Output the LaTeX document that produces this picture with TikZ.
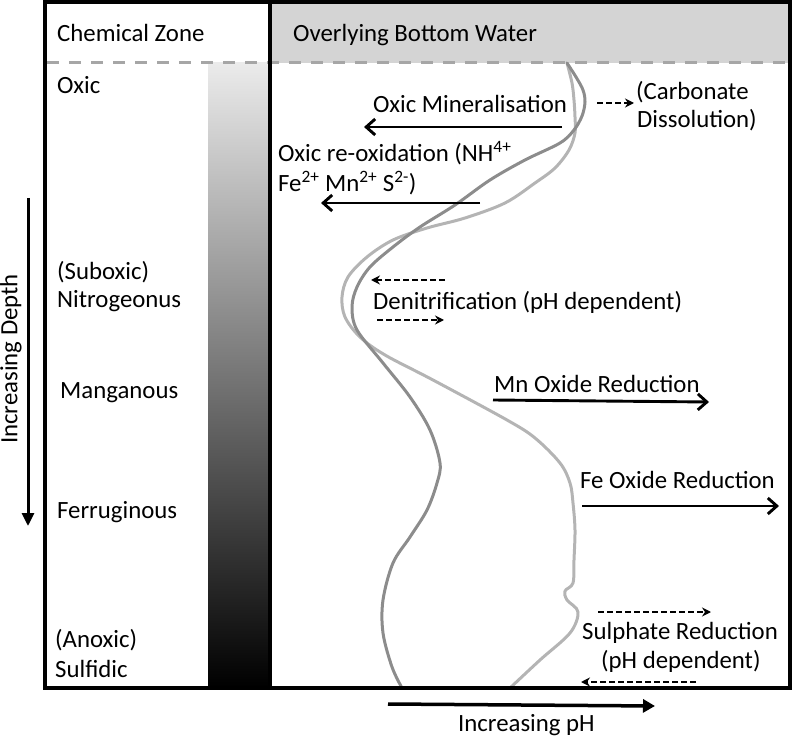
\documentclass[tikz,border=0pt]{standalone}
\usepackage{fontspec}
\setmainfont{Carlito}
\usetikzlibrary{arrows.meta}
\definecolor{hdrgray}{HTML}{D4D4D4}
\definecolor{dashgray}{HTML}{A6A6A6}
\definecolor{curvedark}{HTML}{8C8C8C}
\definecolor{curvelight}{HTML}{B4B4B4}
\definecolor{bartop}{HTML}{EBEBEB}
\begin{document}
\begin{tikzpicture}[x=1pt,y=-1pt,
  lbl/.style={anchor=base west, inner sep=0pt, font=\fontsize{24.8}{29}\selectfont},
  solidarr/.style={line width=2.9pt, -{Straight Barb[length=9pt,width=16pt,line width=2.9pt]}},
  dasharr/.style={line width=1.9pt, dash pattern=on 6pt off 3pt, -{Stealth[length=9pt,width=9pt]}},
  bigarr/.style={line width=3.5pt, -{Triangle[length=12pt,width=13pt]}},
  curvestyle/.style={line width=3pt, line cap=round, line join=round}
]
\useasboundingbox (0,0) rectangle (796,738);

% header fill and gradient
\fill[hdrgray] (270,2) rectangle (790,63);
\shade[top color=bartop, bottom color=black] (208,63) rectangle (268,688);
% dashed sediment-water interface
\draw[dashgray, line width=3pt, dash pattern=on 12pt off 10pt] (47,63) -- (790,63);

% pH curves
\draw[curvestyle, curvelight] plot[smooth, tension=0.55] coordinates {
 (567,63) (572,83) (574,100) (575,117) (575,133) (569,150) (555,168) (535,183)
 (505,203) (465,218) (427,228) (393,240) (367,257) (348,277) (342,297) (345,317)
 (360,337) (385,355) (433,380) (507,420) (535,438) (560,463) (570,483) (573,503)
 (575,530) (574,560) (573,583) (565,591) (567,600) (578,612) (570,633) (540,660) (510,688)};
\draw[curvestyle, curvedark] plot[smooth, tension=0.55] coordinates {
 (567,63) (576,77) (583,90) (585,102) (582,116) (574,130) (560,143) (525,160)
 (490,180) (455,205) (420,227) (393,247) (370,267) (357,287) (352,307) (357,330)
 (383,363) (410,397) (430,430) (440,463) (437,483) (427,510) (410,537) (393,563)
 (383,600) (383,633) (392,667) (402,688)};

% frame
\draw[line width=4pt] (45,2.5) rectangle (790,688);
\draw[line width=4pt] (270,2.5) -- (270,688);

% left column labels
\node[lbl] (cz) at (57,42) {Chemical Zone};
\node[lbl] (oxic) at (57,94) {Oxic};
\node[lbl] (subox) at (57,280) {(Suboxic)};
\node[lbl] (nitro) at (57,308) {Nitrogeonus};
\node[lbl] (mang) at (60,399) {Manganous};
\node[lbl] (ferr) at (57,518) {Ferruginous};
\node[lbl] (anox) at (55,647) {(Anoxic)};
\node[lbl] (sulf) at (55,677) {Sulfidic};
\node[inner sep=0pt, rotate=90, font=\fontsize{24.8}{29}\selectfont] (depth) at (11,359) {Increasing Depth};
\coordinate (d1) at (28,198);
\coordinate (d2) at (28,526);
\draw[line width=3pt, -{Triangle[length=13pt,width=12pt]}] (d1) -- (d2);

% header
\node[lbl] (obw) at (293,42) {Overlying Bottom Water};

% processes
\node[lbl] (oxmin) at (373,113) {Oxic Mineralisation};
\coordinate (om1) at (562,127); \coordinate (om2) at (364,127);
\draw[solidarr] (om1) -- (om2);

\node[lbl] (carb1) at (636,100) {(Carbonate};
\node[lbl] (carb2) at (637,128) {Dissolution)};
\coordinate (cb1) at (597,103); \coordinate (cb2) at (634,103);
\draw[dasharr] (cb1) -- (cb2);

\node[lbl] (reox1) at (278,162) {Oxic re-oxidation (NH\textsuperscript{4+}};
\node[lbl] (reox2) at (278,192) {Fe\textsuperscript{2+} Mn\textsuperscript{2+} S\textsuperscript{2-})};
\coordinate (ro1) at (480,203); \coordinate (ro2) at (321,203);
\draw[solidarr] (ro1) -- (ro2);

\coordinate (dn1) at (445,280); \coordinate (dn2) at (371,280);
\draw[dasharr] (dn1) -- (dn2);
\node[lbl] (denit) at (373,310) {Denitrification (pH dependent)};
\coordinate (dn3) at (377,320); \coordinate (dn4) at (444,320);
\draw[dasharr] (dn3) -- (dn4);

\node[lbl] (mn) at (494,392) {Mn Oxide Reduction};
\coordinate (mn1) at (493,400); \coordinate (mn2) at (709,402);
\draw[solidarr] (mn1) -- (mn2);

\node[lbl] (fe) at (580,488) {Fe Oxide Reduction};
\coordinate (fe1) at (582,506); \coordinate (fe2) at (779,506);
\draw[solidarr] (fe1) -- (fe2);

\coordinate (su1) at (598,612); \coordinate (su2) at (711,612);
\draw[dasharr] (su1) -- (su2);
\node[lbl] (sulph1) at (582,639) {Sulphate Reduction};
\node[lbl] (sulph2) at (601,668) {(pH dependent)};
\coordinate (su3) at (696,682); \coordinate (su4) at (581,682);
\draw[dasharr] (su3) -- (su4);

% pH axis
\coordinate (ph1) at (388,704); \coordinate (ph2) at (655,706);
\draw[bigarr] (ph1) -- (ph2);
\node[lbl] (incph) at (458,731) {Increasing pH};
\end{tikzpicture}
\end{document}
